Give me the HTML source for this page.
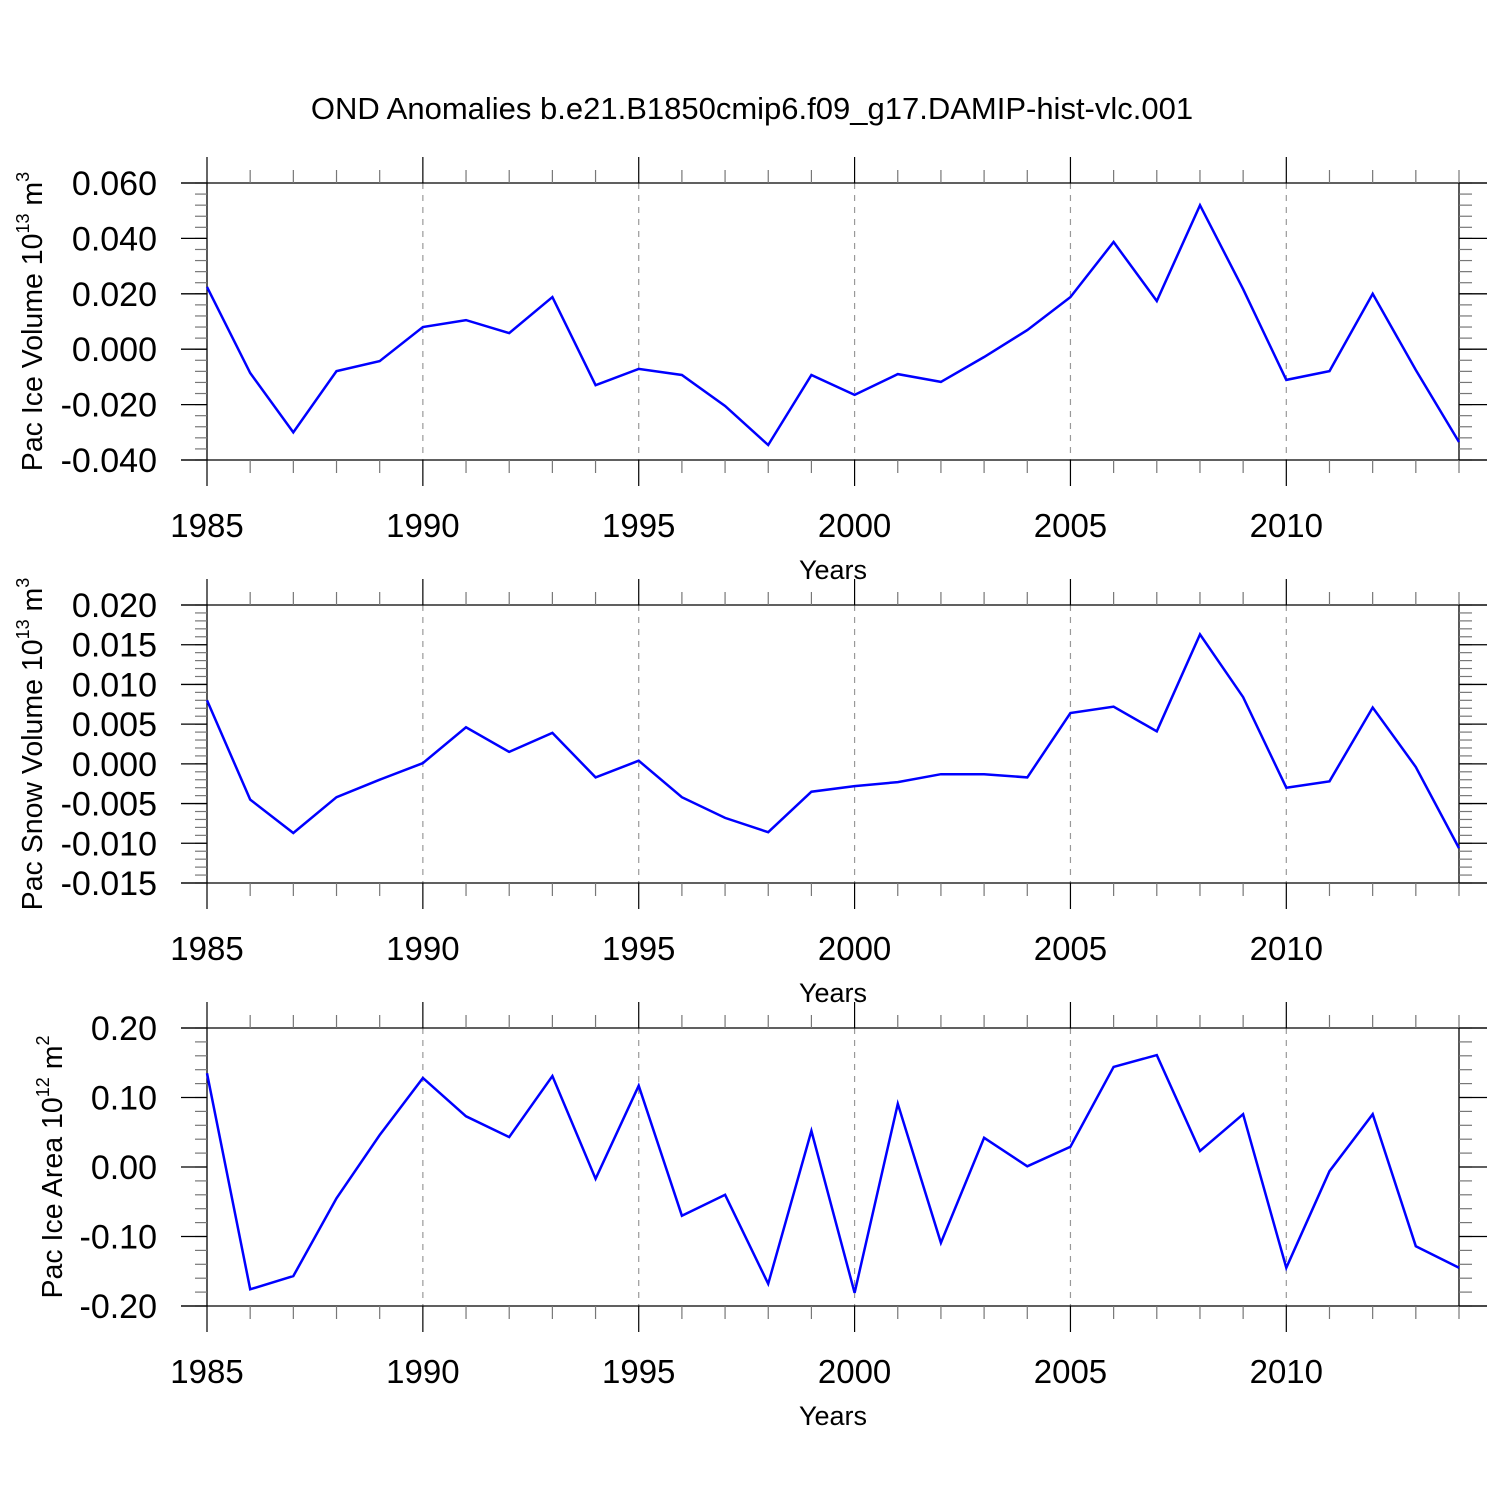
<!DOCTYPE html>
<html><head><meta charset="utf-8"><style>
html,body{margin:0;padding:0;background:#fff;}
svg{display:block;font-family:"Liberation Sans",sans-serif;}
</style></head><body>
<svg id="chart" width="1500" height="1500" viewBox="0 0 1500 1500" xmlns="http://www.w3.org/2000/svg">
<text x="752" y="119" font-size="31" text-anchor="middle">OND Anomalies b.e21.B1850cmip6.f09_g17.DAMIP-hist-vlc.001</text>
</svg>
<script>
const years = [1985,1986,1987,1988,1989,1990,1991,1992,1993,1994,1995,1996,1997,1998,1999,2000,2001,2002,2003,2004,2005,2006,2007,2008,2009,2010,2011,2012,2013,2014];
const iceVolume = [0.0225,-0.0086,-0.030,-0.0079,-0.0043,0.008,0.0105,0.0058,0.0188,-0.013,-0.0071,-0.0093,-0.0205,-0.0346,-0.0093,-0.0165,-0.0090,-0.0118,-0.0028,0.0069,0.0188,0.0387,0.0174,0.052,0.0217,-0.0111,-0.0079,0.020,-0.0075,-0.0335];
const snowVolume = [0.008,-0.0045,-0.0087,-0.0042,-0.002,0.0001,0.0046,0.0015,0.0039,-0.0017,0.0004,-0.0042,-0.0068,-0.0086,-0.0035,-0.0028,-0.0023,-0.0013,-0.0013,-0.0017,0.0064,0.0072,0.0041,0.0163,0.0084,-0.003,-0.0022,0.0071,-0.0004,-0.0106];
const iceArea = [0.135,-0.176,-0.157,-0.045,0.046,0.128,0.073,0.043,0.131,-0.017,0.117,-0.070,-0.040,-0.168,0.052,-0.181,0.091,-0.109,0.042,0.001,0.029,0.144,0.161,0.023,0.076,-0.145,-0.006,0.076,-0.114,-0.145];
const xTickYears = [1985,1990,1995,2000,2005,2010];
const yTicks1 = [0.06,0.04,0.02,0,-0.02,-0.04];
const yTicks2 = [0.02,0.015,0.01,0.005,0,-0.005,-0.01,-0.015];
const yTicks3 = [0.2,0.1,0,-0.1,-0.2];

const svg = document.getElementById('chart');
const NS = 'http://www.w3.org/2000/svg';
const X0 = 207, X1 = 1459;
function xs(y){ return X0 + (y-1985)/(2014-1985)*(X1-X0); }
function mk(tag, attrs, parent){ const e=document.createElementNS(NS,tag); for(const k in attrs) e.setAttribute(k,attrs[k]); (parent||svg).appendChild(e); return e; }

const panels = [
 {name:'ice-volume', data:iceVolume, top:183, bot:460, ymax:0.06, ymin:-0.04, ticks:yTicks1, dec:3, minor:0.004, label:'Pac Ice Volume 10', sup:'13', unit:' m', usup:'3', lx:42},
 {name:'snow-volume', data:snowVolume, top:605, bot:883, ymax:0.02, ymin:-0.015, ticks:yTicks2, dec:3, minor:0.001, label:'Pac Snow Volume 10', sup:'13', unit:' m', usup:'3', lx:42},
 {name:'ice-area', data:iceArea, top:1028, bot:1306, ymax:0.2, ymin:-0.2, ticks:yTicks3, dec:2, minor:0.02, label:'Pac Ice Area 10', sup:'12', unit:' m', usup:'2', lx:62}
];

panels.forEach(p=>{
 const g = mk('g',{});
 
 
 const ys = v => p.top + (p.ymax - v)/(p.ymax-p.ymin)*(p.bot-p.top);
 xTickYears.slice(1).forEach(yr=>{
  const l = mk('line',{x1:xs(yr),x2:xs(yr),y1:p.top,y2:p.bot,stroke:'#999','stroke-width':1.2,'stroke-dasharray':'6,6'},g);
  
  
 });
 [p.top,p.bot].forEach(y=>{ const l=mk('line',{x1:181,x2:1487,y1:y,y2:y,stroke:'#000','stroke-width':1.3},g);
  
   });
 [X0,X1].forEach(x=>{ mk('line',{x1:x,x2:x,y1:p.top,y2:p.bot,stroke:'#000','stroke-width':1.3},g); });
 years.forEach(yr=>{
  const major = (yr%5===0);
  const len = major?26:13;
  const x = xs(yr);
  mk('line',{x1:x,x2:x,y1:p.top-len,y2:p.top,stroke:major?'#000':'#777','stroke-width':1.2},g);
  mk('line',{x1:x,x2:x,y1:p.bot,y2:p.bot+len,stroke:major?'#000':'#777','stroke-width':1.2},g);
 });
 xTickYears.forEach(yr=>{
  const t = mk('text',{x:xs(yr),y:p.bot+77,'font-size':33,'text-anchor':'middle'},g);
  t.textContent = yr;
  
  
 });
 const xt = mk('text',{x:833,y:p.bot+119,'font-size':27,'text-anchor':'middle'},g);
 xt.textContent='Years';
 
 
 const n = Math.round((p.ymax-p.ymin)/p.minor);
 for(let i=0;i<=n;i++){
  const v = p.ymin + i*p.minor; const y = ys(v);
  mk('line',{x1:X0-12,x2:X0,y1:y,y2:y,stroke:'#777','stroke-width':1.2},g);
  mk('line',{x1:X1,x2:X1+13,y1:y,y2:y,stroke:'#777','stroke-width':1.2},g);
 }
 p.ticks.forEach(v=>{
  const y = ys(v);
  mk('line',{x1:181,x2:X0,y1:y,y2:y,stroke:'#000','stroke-width':1.3},g);
  mk('line',{x1:X1,x2:1487,y1:y,y2:y,stroke:'#000','stroke-width':1.3},g);
  const t = mk('text',{x:157,y:y+12,'font-size':34,'text-anchor':'end'},g);
  t.textContent = v.toFixed(p.dec);
  
  
 });
 const cy = (p.top+p.bot)/2;
 const yt = mk('text',{x:0,y:0,'font-size':28.5,'text-anchor':'middle',transform:`translate(${p.lx},${cy}) rotate(-90)`},g);
 
 
 const s1=mk('tspan',{},yt); s1.textContent=p.label;
 const s2=mk('tspan',{dy:-13,'font-size':18},yt); s2.textContent=p.sup;
 const s3=mk('tspan',{dy:13},yt); s3.textContent=p.unit;
 const s4=mk('tspan',{dy:-13,'font-size':18},yt); s4.textContent=p.usup;
 const pts = p.data.map((v,i)=>xs(years[i]).toFixed(1)+','+ys(v).toFixed(1)).join(' ');
 const pl = mk('polyline',{points:pts,fill:'none',stroke:'#0000ff','stroke-width':2.5,'stroke-linejoin':'miter'},g);
 
 
});
</script>
</body></html>
